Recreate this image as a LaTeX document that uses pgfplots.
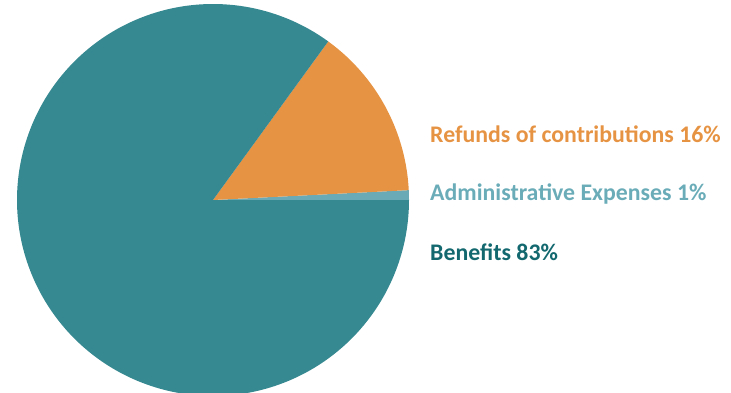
\documentclass[border=0pt]{standalone}
\usepackage{pgfplots}
\pgfplotsset{compat=1.18}
\usepackage{fontspec}
\setmainfont{Carlito}
\definecolor{benef}{HTML}{368891}
\definecolor{refund}{HTML}{E69343}
\definecolor{admin}{HTML}{6AAAB6}
\definecolor{benefText}{HTML}{12686E}
\definecolor{adminText}{HTML}{6AACB8}
\begin{document}
\begin{tikzpicture}
\begin{axis}[
  scale only axis, width=731bp, height=393bp,
  xmin=0, xmax=731, ymin=0, ymax=393,
  hide axis, clip=true, clip bounding box=upper bound,
]
\path (rel axis cs:0,0) rectangle (rel axis cs:1,1);
% shares (percent of circle): admin 0.8, refunds 14.2, benefits 85.0 ; centre (213,193), radius 196
\addplot[fill=admin, draw=none, domain=0:2.88, samples=10, variable=\t]
  ({213+196*cos(\t)},{193+196*sin(\t)}) -- (axis cs:213,193) -- cycle;
\addplot[fill=refund, draw=none, domain=2.88:54.0, samples=60, variable=\t]
  ({213+196*cos(\t)},{193+196*sin(\t)}) -- (axis cs:213,193) -- cycle;
\addplot[fill=benef, draw=none, domain=54.0:360, samples=300, variable=\t]
  ({213+196*cos(\t)},{193+196*sin(\t)}) -- (axis cs:213,193) -- cycle;
\node[anchor=base west, inner sep=0, text=refund, font=\fontsize{23.9}{28}\selectfont\bfseries] at (axis cs:430,251) {Refunds of contributions 16\%};
\node[anchor=base west, inner sep=0, text=adminText, font=\fontsize{23.9}{28}\selectfont\bfseries] at (axis cs:430,192.5) {Administrative Expenses 1\%};
\node[anchor=base west, inner sep=0, text=benefText, font=\fontsize{23.9}{28}\selectfont\bfseries] at (axis cs:430,133) {Benefits 83\%};
\end{axis}
\end{tikzpicture}
\end{document}
